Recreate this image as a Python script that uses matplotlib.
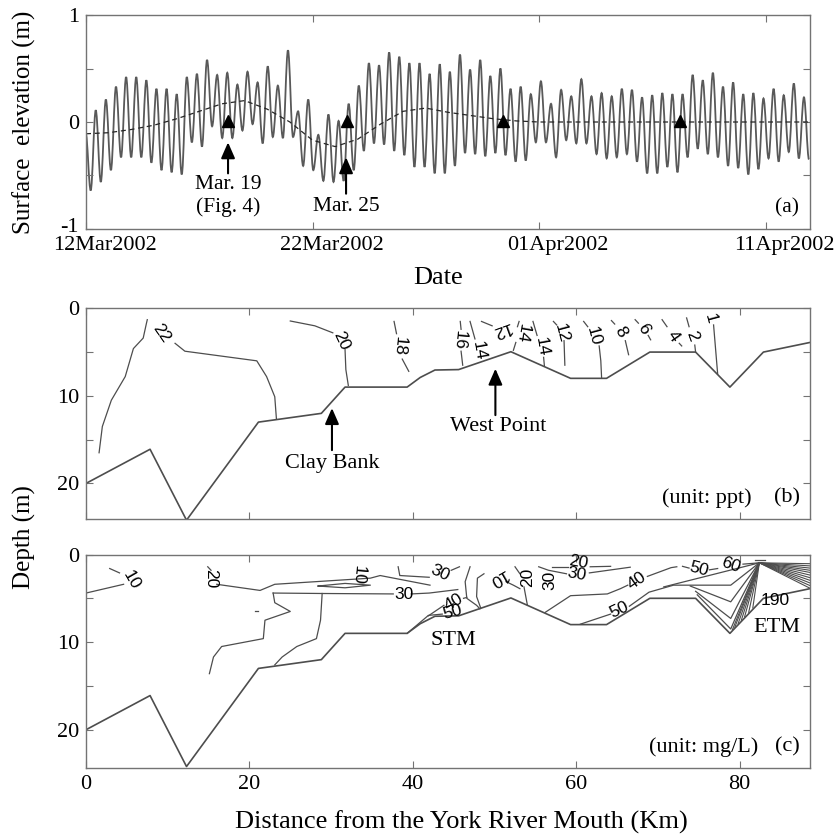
import numpy as np
import pandas as pd
import matplotlib
matplotlib.use('Agg')
import matplotlib.pyplot as plt
import matplotlib.transforms as mtransforms
from matplotlib.path import Path
from matplotlib.patches import PathPatch

plt.rcParams['font.family'] = 'Liberation Serif'
SANS = 'Liberation Sans'
LINE = '0.3'

# ---------------- panel (a) data: surface elevation ----------------
start = pd.Timestamp('2002-03-12')
tick_dates = pd.to_datetime(['2002-03-12', '2002-03-22', '2002-04-01', '2002-04-11'])

# successive high/low waters (m)
tide_extrema = [
    -0.10,
    -0.64, 0.11, -0.56, 0.21, -0.45, 0.33, -0.33, 0.42, -0.33, 0.42, -0.33, 0.39,
    -0.38, 0.31, -0.45, 0.31, -0.47, 0.26, -0.49, 0.42, -0.19, 0.45, -0.23, 0.58,
    -0.04, 0.44, -0.15, 0.46, -0.15, 0.35, -0.08, 0.47, -0.02, 0.37, -0.20, 0.52,
    -0.14, 0.34, -0.15, 0.67, -0.14, 0.10, -0.41, 0.21, -0.45, -0.12, -0.55, 0.07,
    -0.56, 0.01, -0.55, 0.17, -0.45, 0.34, -0.27, 0.55, -0.20, 0.53, -0.21, 0.65,
    -0.27, 0.61, -0.31, 0.55, -0.42, 0.55, -0.42, 0.45, -0.48, 0.54,
    -0.48, 0.47, -0.41, 0.63, -0.29, 0.49, -0.30, 0.58, -0.32, 0.43, -0.29, 0.50,
    -0.31, 0.31, -0.37, 0.33, -0.36, 0.26, -0.19, 0.38, -0.19, 0.17, -0.33, 0.30,
    -0.17, 0.24, -0.20, 0.40, -0.20, 0.24, -0.30, 0.27, -0.34, 0.24, -0.33, 0.31,
    -0.30, 0.30, -0.37, 0.23, -0.48, 0.25, -0.48, 0.27, -0.42, 0.26, -0.47, 0.26,
    -0.33, 0.44, -0.25, 0.39, -0.30, 0.46, -0.33, 0.33, -0.41, 0.37, -0.43, 0.26,
    -0.49, 0.27, -0.44, 0.22, -0.34, 0.31, -0.37, 0.25, -0.28, 0.36, -0.34, 0.23,
    -0.35,
]
tide_first = -0.016      # days after 12Mar of first listed extremum
tide_half = 0.2233       # days between high and low water

# subtidal (low-passed) elevation, one value per day
mean_vals = [-0.11, -0.10, -0.07, -0.03, 0.03, 0.10, 0.17, 0.20, 0.12, 0.00,
             -0.17, -0.23, -0.16, -0.02, 0.10, 0.13, 0.09, 0.06, 0.03, 0.01,
             0.0, 0.0, 0.0, 0.0, 0.0, 0.0, 0.0, 0.0, 0.0, 0.0, 0.0, 0.0, 0.0]

triangle_days = [6.27, 11.5, 18.42, 26.24]

# ---------------- panels (b), (c): along-channel section ----------------
bath_km = [0, 7.84, 12.3, 21.1, 28.8, 31.7, 39.3, 40.9, 42.7, 45.6, 52.0,
           59.3, 63.7, 69.0, 74.6, 78.8, 82.9, 88.6]
bath_depth = [20.0, 16.1, 24.2, 13.0, 12.0, 9.0, 9.0, 7.9, 7.05, 7.0, 4.96,
              8.0, 8.0, 5.0, 5.0, 9.0, 5.0, 3.9]

sal_lines = [
    [(1.6, 16.5), (2.0, 13.5), (3.1, 10.5), (4.8, 7.8), (5.8, 4.6), (7.0, 3.4), (7.4, 1.7), (7.5, 1.3)],
    [(10.9, 4.0), (12.1, 4.9), (20.9, 6.0), (22.1, 7.8), (23.1, 10.1), (23.3, 12.6)],
    [(25.0, 1.45), (28.0, 2.0), (30.2, 2.8)],
    [(31.7, 4.7), (31.8, 7.0), (32.1, 8.8)],
    [(37.7, 1.5), (38.0, 2.9)],
    [(38.7, 5.8), (39.5, 7.2)],
    [(45.8, 1.5), (45.9, 2.4)],
    [(45.9, 4.9), (46.1, 6.5)],
    [(47.0, 1.5), (47.3, 2.5), (47.6, 3.5)],
    [(48.4, 1.5), (49.7, 2.0)],
    [(53.0, 1.5), (52.8, 2.1)],
    [(52.6, 3.9), (52.3, 4.8)],
    [(54.7, 1.5), (55.2, 3.1)],
    [(56.0, 5.6), (56.1, 6.6)],
    [(57.2, 1.5), (57.6, 1.9)],
    [(58.5, 3.7), (58.6, 6.5)],
    [(60.9, 1.5), (61.4, 2.1)],
    [(62.8, 4.3), (63.0, 6.0), (63.1, 8.0)],
    [(64.3, 1.4), (64.7, 1.8)],
    [(66.0, 3.7), (66.4, 5.3)],
    [(67.2, 1.3), (67.6, 1.7)],
    [(68.8, 3.1), (69.1, 3.6)],
    [(70.5, 1.3), (71.1, 2.1)],
    [(72.6, 4.0), (72.9, 4.3)],
    [(73.5, 1.1), (73.8, 2.1)],
    [(74.5, 4.2), (74.6, 5.0)],
    [(76.8, 1.9), (77.3, 7.5)],
]
sal_labels = [('22', 9.2, 2.8, -55), ('20', 31.2, 3.7, -65), ('18', 38.3, 4.3, -95),
              ('16', 45.7, 3.6, -95), ('14', 48.1, 4.8, -80), ('12', 50.8, 2.4, 200),
              ('14', 53.4, 2.9, -100), ('14', 55.8, 4.4, -80), ('12', 58.2, 2.8, -75),
              ('10', 62.1, 3.2, -75), ('8', 65.4, 2.7, -60), ('6', 68.2, 2.4, -60),
              ('4', 71.9, 3.2, -55), ('2', 74.2, 3.2, -70), ('1', 76.4, 1.2, -75)]

tss_lines = [
    [(0.0, 4.4), (4.6, 3.4)],
    [(2.9, 1.6), (4.1, 2.1)],
    [(14.9, 1.4), (15.3, 1.8)],
    [(16.0, 3.4), (21.3, 4.1), (23.1, 3.4), (34.8, 2.7), (36.0, 2.4), (42.1, 3.5)],
    [(22.9, 4.4), (28.9, 4.45), (37.6, 4.5)],
    [(39.8, 4.5), (42.0, 4.4), (45.5, 4.0)],
    [(28.9, 4.45), (28.7, 7.5), (28.2, 9.6), (25.8, 10.5), (24.0, 11.7), (23.1, 12.6)],
    [(22.9, 4.4), (23.1, 5.5), (25.0, 6.5), (21.9, 7.5), (21.7, 9.6), (16.6, 10.5),
     (15.6, 11.7), (15.1, 13.6)],
    [(20.7, 6.5), (21.1, 6.5)],
    [(28.4, 3.6), (31.7, 3.3), (34.8, 3.5), (31.7, 3.8), (28.4, 3.6)],
    [(38.2, 1.4), (38.4, 2.4), (42.0, 2.6)],
    [(44.7, 1.8), (45.7, 1.4)],
    [(39.3, 9.0), (41.9, 6.95), (43.6, 6.8)],
    [(41.9, 7.0), (43.8, 5.8)],
    [(46.2, 5.0), (46.6, 4.9)],
    [(47.0, 1.4), (46.4, 3.1), (46.6, 5.0), (47.8, 5.8), (48.2, 6.2)],
    [(48.7, 2.2), (47.9, 2.7), (47.8, 4.8), (48.3, 6.1)],
    [(51.4, 3.1), (52.3, 3.5), (53.1, 3.9)],
    [(52.5, 1.4), (53.1, 2.2)],
    [(53.6, 3.7), (54.0, 5.7)],
    [(55.4, 1.4), (56.6, 1.8), (58.8, 2.2)],
    [(61.6, 2.1), (66.6, 1.45)],
    [(57.0, 1.45), (59.0, 1.45)],
    [(61.7, 1.4), (64.2, 1.35)],
    [(56.2, 6.6), (59.3, 4.7), (63.8, 4.5), (65.4, 3.9), (66.3, 3.5)],
    [(68.7, 2.5), (71.6, 1.5), (72.3, 1.4)],
    [(73.0, 1.35), (73.8, 1.55)],
    [(76.3, 1.75), (77.3, 1.6)],
    [(80.4, 1.1), (82.4, 0.95)],
    [(60.5, 7.95), (64.2, 6.8)],
    [(66.5, 5.9), (68.9, 4.3), (71.9, 3.5), (78.9, 3.5), (82.4, 0.95)],
    [(70.7, 3.7), (82.4, 0.95)],
    [(73.95, 3.6), (78.9, 5.4), (82.4, 0.95)],
    [(74.6, 4.2), (78.9, 7.3), (82.4, 0.95)],
    [(74.8, 4.6), (78.9, 8.5), (82.4, 0.95)],
    [(81.9, 0.66), (83.1, 0.66)],
]
tss_labels = [('10', 5.6, 2.9, -60), ('20', 15.2, 2.7, -90), ('10', 33.3, 2.3, -95),
              ('30', 38.9, 4.6, 0), ('30', 43.3, 2.1, -25), ('40', 45.0, 5.4, 30),
              ('50', 44.8, 6.6, 15), ('10', 50.3, 2.6, -150), ('20', 54.0, 2.6, 90),
              ('30', 56.8, 2.95, 90), ('20', 60.3, 0.9, -10), ('30', 60.1, 2.2, -10),
              ('40', 67.4, 3.0, 35), ('50', 65.2, 6.35, 25), ('50', 75.0, 1.65, -15),
              ('60', 78.9, 1.25, -20), ('190', 84.4, 5.3, 0)]

# turbidity maximum fan: lines meeting at one point
etm_apex = (82.4, 0.95)
etm_right_depths = [1.05, 1.3, 1.55, 1.8, 2.05, 2.35, 2.65, 2.95, 3.25, 3.55, 3.85]
etm_v_km = [79.1, 79.4, 79.8, 80.2, 80.6, 81.1, 81.6]
etm_v_depth = [8.6, 8.3, 7.9, 7.5, 7.1, 6.6, 6.1]


def smooth_path(t, v, k=0.364):
    verts = [(t[0], v[0])]
    codes = [Path.MOVETO]
    for i in range(len(t) - 1):
        dt = t[i + 1] - t[i]
        verts += [(t[i] + k * dt, v[i]), (t[i + 1] - k * dt, v[i + 1]), (t[i + 1], v[i + 1])]
        codes += [Path.CURVE4] * 3
    return Path(verts, codes)


def style_axes(ax):
    for s in ax.spines.values():
        s.set_color('0.45')
        s.set_linewidth(1.0)
    ax.tick_params(direction='in', top=True, right=True, length=5, width=0.8,
                   color='0.45', labelsize=16, pad=5)


fig = plt.figure(figsize=(8.37, 8.4), dpi=100)
W, H = 837.0, 840.0
L, R = 86 / W, 810 / W

# ---------------- (a) ----------------
ax1 = fig.add_axes([L, 1 - 229 / H, R - L, (229 - 15) / H])
t_ext = tide_first + tide_half * np.arange(len(tide_extrema))
ax1.add_patch(PathPatch(smooth_path(t_ext, tide_extrema), fill=False,
                        edgecolor='0.35', lw=1.3))
ax1.plot(np.arange(len(mean_vals)), mean_vals, color='0.15', lw=0.9, dashes=(4, 3))
ax1.plot(triangle_days, [0.01] * len(triangle_days), '^', color='k', ms=9)
ax1.set_xlim(0, 31.96)
ax1.set_ylim(-1, 1)
tick_pos = [(d - start).days for d in tick_dates]
ax1.set_xticks(tick_pos)
ax1.set_xticklabels([d.strftime('%d%b%Y') for d in tick_dates])
ax1.set_yticks([-1, -0.5, 0, 0.5, 1])
ax1.set_yticklabels(['-1', '', '0', '', '1'])
style_axes(ax1)
# date labels sit a little right of their ticks, and "-1" a little up
shift_x = mtransforms.ScaledTranslation(19 / 100, 0, fig.dpi_scale_trans)
for lab in ax1.get_xticklabels():
    lab.set_transform(lab.get_transform() + shift_x)
shift_y = mtransforms.ScaledTranslation(0, 4 / 100, fig.dpi_scale_trans)
lab0 = ax1.get_yticklabels()[0]
lab0.set_transform(lab0.get_transform() + shift_y)

arrow = dict(arrowstyle='-|>,head_length=0.8,head_width=0.35', color='k', lw=1.5,
             mutation_scale=12, shrinkA=0, shrinkB=0)
ax1.annotate('', xy=(6.27, -0.19), xytext=(6.27, -0.48), arrowprops=arrow)
ax1.annotate('', xy=(11.48, -0.33), xytext=(11.48, -0.67), arrowprops=arrow)
ax1.text(6.27, -0.58, 'Mar. 19', ha='center', va='center', fontsize=15.5)
ax1.text(6.27, -0.80, '(Fig. 4)', ha='center', va='center', fontsize=15.5)
ax1.text(11.5, -0.79, 'Mar. 25', ha='center', va='center', fontsize=15.5)
ax1.text(30.95, -0.80, '(a)', ha='center', va='center', fontsize=15.5)
fig.text(24 / W, 1 - 122 / H, 'Surface  elevation (m)', rotation=90,
         ha='center', va='center', fontsize=18)
fig.text(438 / W, 1 - 278 / H, 'Date', ha='center', va='center', fontsize=19)

# ---------------- (b) ----------------
ax2 = fig.add_axes([L, 1 - 519.3 / H, R - L, (519.3 - 308.3) / H])
ax2.plot(bath_km, bath_depth, color=LINE, lw=1.2)
for seg in sal_lines:
    xs, ys = zip(*seg)
    ax2.plot(xs, ys, color=LINE, lw=0.9)
for s, x, y, r in sal_labels:
    ax2.text(x, y, s, rotation=r, ha='center', va='center', family=SANS,
             fontsize=12.5, rotation_mode='anchor')
ax2.annotate('', xy=(30.1, 11.4), xytext=(30.1, 16.2), arrowprops=arrow)
ax2.annotate('', xy=(50.1, 6.9), xytext=(50.1, 12.2), arrowprops=arrow)
ax2.text(30.1, 17.7, 'Clay Bank', ha='center', va='center', fontsize=16)
ax2.text(50.5, 13.5, 'West Point', ha='center', va='center', fontsize=16)
ax2.text(76.0, 21.7, '(unit: ppt)', ha='center', va='center', fontsize=16)
ax2.text(85.8, 21.7, '(b)', ha='center', va='center', fontsize=16)
ax2.set_xlim(0, 88.6)
ax2.set_ylim(24.1, 0)
ax2.set_xticks([0, 20, 40, 60, 80])
ax2.set_xticklabels([])
ax2.set_yticks([0, 5, 10, 15, 20])
ax2.set_yticklabels(['0', '', '10', '', '20'])
style_axes(ax2)

# ---------------- (c) ----------------
ax3 = fig.add_axes([L, 1 - 768.3 / H, R - L, (768.3 - 554.5) / H])
ax3.plot(bath_km, bath_depth, color=LINE, lw=1.2)
for seg in tss_lines:
    xs, ys = zip(*seg)
    ax3.plot(xs, ys, color=LINE, lw=0.9)
for d in etm_right_depths:
    ax3.plot([etm_apex[0], 88.6], [etm_apex[1], d], color=LINE, lw=0.8)
for x, d in zip(etm_v_km, etm_v_depth):
    ax3.plot([x, etm_apex[0]], [d, etm_apex[1]], color=LINE, lw=0.8)
for s, x, y, r in tss_labels:
    ax3.text(x, y, s, rotation=r, ha='center', va='center', family=SANS,
             fontsize=12.5, rotation_mode='anchor')
ax3.text(45.0, 9.8, 'STM', ha='center', va='center', fontsize=16)
ax3.text(84.6, 8.3, 'ETM', ha='center', va='center', fontsize=16)
ax3.text(75.6, 22.0, '(unit: mg/L)', ha='center', va='center', fontsize=16)
ax3.text(85.8, 22.0, '(c)', ha='center', va='center', fontsize=16)
ax3.set_xlim(0, 88.6)
ax3.set_ylim(24.4, 0)
ax3.set_xticks([0, 20, 40, 60, 80])
ax3.set_yticks([0, 5, 10, 15, 20])
ax3.set_yticklabels(['0', '', '10', '', '20'])
style_axes(ax3)

fig.text(24 / W, 1 - 537 / H, 'Depth (m)', rotation=90, ha='center', va='center',
         fontsize=18)
fig.text(461 / W, 1 - 822 / H, 'Distance from the York River Mouth (Km)',
         ha='center', va='center', fontsize=19)

fig.savefig('out.png', dpi=100)
